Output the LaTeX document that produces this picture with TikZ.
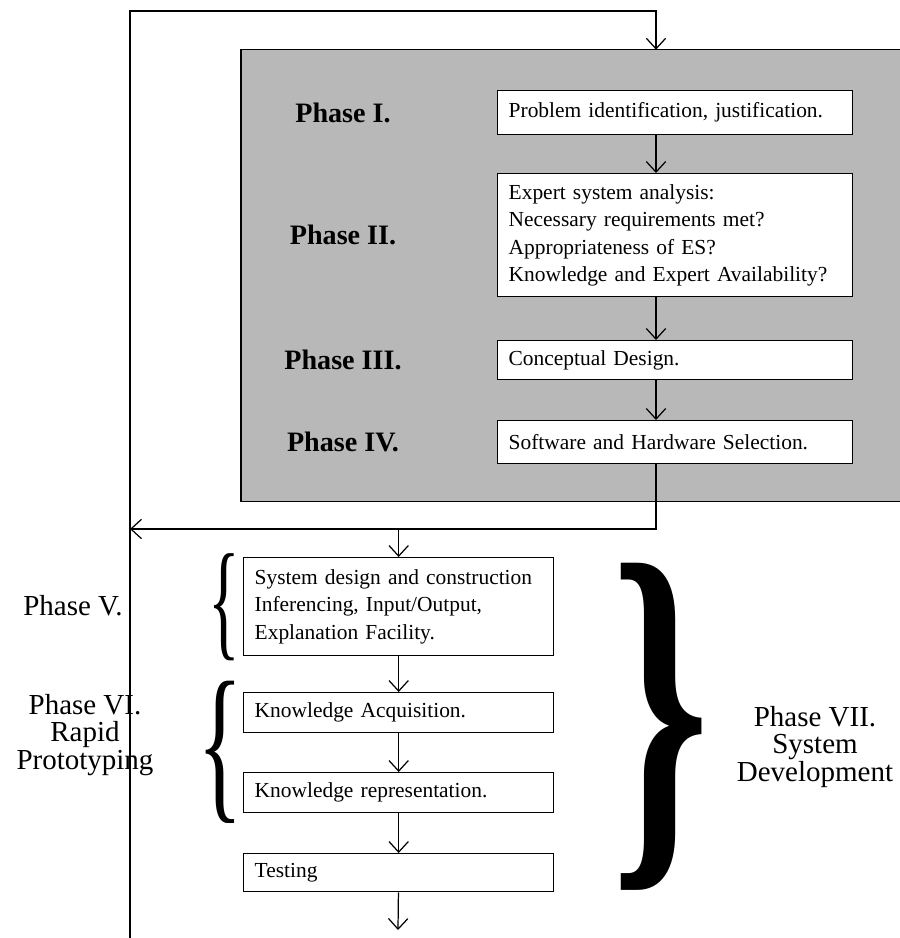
\documentclass[tikz,border=0pt]{standalone}
\usepackage{fontspec}
\setmainfont{Liberation Serif}
\usepackage{graphicx}
\usetikzlibrary{arrows.meta,calc,positioning}

\tikzset{
  stepbox/.style={draw, line width=0.8pt, fill=white, anchor=north west, align=left,
    inner xsep=0.22cm, font=\fontsize{12.2}{15.6}\selectfont},
  flow/.style={line width=0.7pt, -{Straight Barb[length=6pt,width=11pt]}},
  phaselbl/.style={font=\fontsize{16}{16}\selectfont\bfseries},
  sidelbl/.style={align=center, font=\fontsize{16.5}{15.5}\selectfont},
  panel/.style={fill=black!28, minimum width=13.18cm, minimum height=9.02cm, inner sep=0pt},
}

\begin{document}
\begin{tikzpicture}[x=0.02cm,y=-0.02cm]
  \useasboundingbox (0,0) rectangle (900,938);

  % shaded panel of phases I-IV
  \node[panel] (upper) at (570.5,275.5) {};
  \draw[line width=0.9pt] (upper.north east) -- (upper.north west) -- (upper.south west) -- (upper.south east);

  \coordinate (axis) at (656,0);
  \coordinate (lblx) at (343,0);

  \node[stepbox, text width=6.66cm, minimum height=0.88cm] (p1) at (497,90)
    {Problem identification, justification.};
  \node[stepbox, text width=6.66cm, minimum height=2.46cm] (p2) at (497,173)
    {Expert system analysis:\\ Necessary requirements met?\\ Appropriateness of ES?\\ Knowledge and Expert Availability?};
  \node[stepbox, text width=6.66cm, minimum height=0.78cm] (p3) at (497,340)
    {Conceptual Design.};
  \node[stepbox, text width=6.66cm, minimum height=0.86cm] (p4) at (497,420)
    {Software and Hardware Selection.};

  \node[phaselbl] (l1) at (p1 -| lblx) {Phase I.};
  \node[phaselbl] (l2) at (p2 -| lblx) {Phase II.};
  \node[phaselbl] (l3) at (p3 -| lblx) {Phase III.};
  \node[phaselbl] (l4) at (p4 -| lblx) {Phase IV.};

  \draw[flow] (p1.south -| axis) -- (p2.north -| axis);
  \draw[flow] (p2.south -| axis) -- (p3.north -| axis);
  \draw[flow] (p3.south -| axis) -- (p4.north -| axis);

  % lower part, phases V-VII
  \node[stepbox, text width=5.76cm, minimum height=1.96cm] (p5) at (243,557)
    {System design and construction\\ Inferencing, Input/Output,\\ Explanation Facility.};
  \node[stepbox, text width=5.76cm, minimum height=0.8cm] (ka) at (243,692)
    {Knowledge Acquisition.};
  \node[stepbox, text width=5.76cm, minimum height=0.8cm] (kr) at (243,772)
    {Knowledge representation.};
  \node[stepbox, text width=5.76cm, minimum height=0.76cm] (test) at (243,853)
    {Testing};

  \node[sidelbl] (l5) at (73,606) {Phase V.};
  \node[sidelbl] (l6) at (85,735) {Phase VI.\\ Rapid\\ Prototyping};
  \node[sidelbl] (l7) at (815,747) {Phase VII.\\ System\\ Development};

  \node[inner sep=0pt] (bracev) at (224,607) {\resizebox*{18pt}{61pt}{\{}};
  \node[inner sep=0pt] (bracevi) at (220,752) {\resizebox*{26pt}{81pt}{\{}};
  \node[inner sep=0pt] (bracevii) at (661,727) {\resizebox*{56pt}{186pt}{\bfseries\}}};

  \coordinate (fb) at (656,529);
  \coordinate (fbl) at (130,529);
  \coordinate (out) at (398,930);
  \draw[flow] (p4.south -| fb) -- (fb) -- (fbl);
  \draw[flow] (p5.north |- fb) -- (p5.north);
  \draw[flow] (p5) -- (ka);
  \draw[flow] (ka) -- (kr);
  \draw[flow] (kr) -- (test);
  \draw[flow] (test) -- (out);

  % feedback loop back to the top
  \coordinate (bl) at (130,938);
  \coordinate (tl) at (130,11);
  \coordinate (tr) at (656,11);
  \draw[flow] (bl) -- (tl) -- (tr) -- (tr |- upper.north);
\end{tikzpicture}
\end{document}
